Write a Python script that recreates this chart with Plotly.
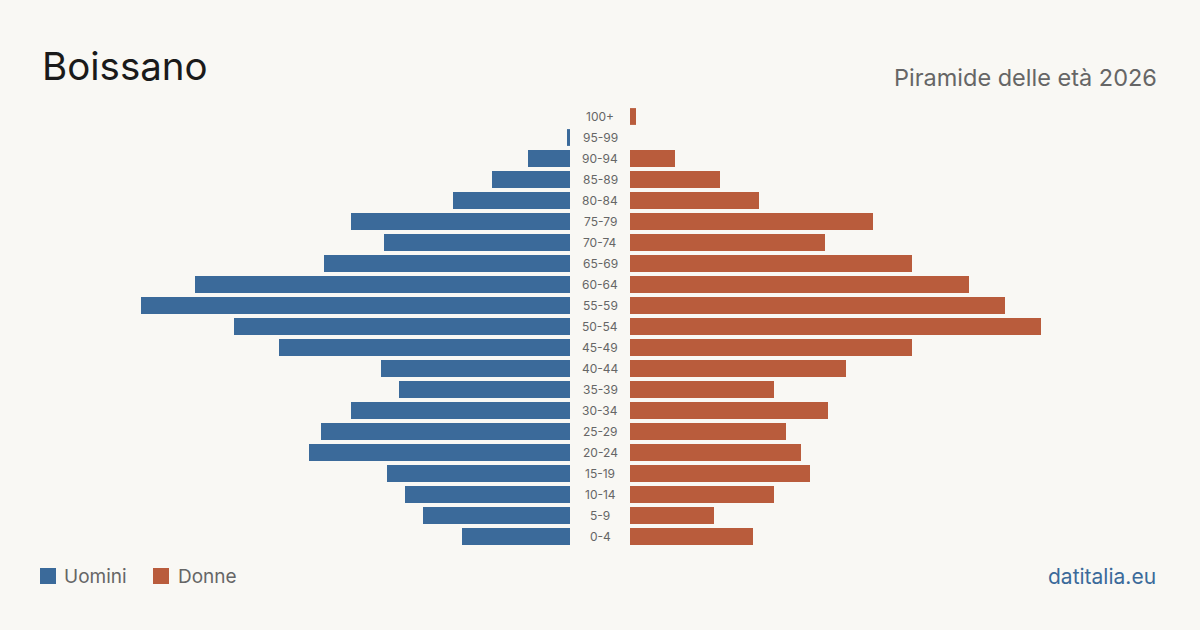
import plotly.graph_objects as go

ages = ["0-4", "5-9", "10-14", "15-19", "20-24", "25-29", "30-34", "35-39", "40-44",
        "45-49", "50-54", "55-59", "60-64", "65-69", "70-74", "75-79", "80-84",
        "85-89", "90-94", "95-99", "100+"]
uomini = [36, 49, 55, 61, 87, 83, 73, 57, 63, 97, 112, 143, 125, 82, 62, 73, 39, 26, 14, 1, 0]
donne = [41, 28, 48, 60, 57, 52, 66, 48, 72, 94, 137, 125, 113, 94, 65, 81, 43, 30, 15, 0, 2]

title = "Boissano"
subtitle = "Piramide delle età 2026"
source = "datitalia.eu"

BLUE = "#3b6a9a"
RED = "#b95c3c"
BG = "#f9f8f4"
GREY = "#666666"
FONT = "Inter"

W, H = 1200, 630
R = 530 / 3.0

fig = go.Figure()
fig.add_trace(go.Bar(y=ages, x=uomini, orientation="h", marker=dict(color=BLUE, line_width=0),
                     xaxis="x", yaxis="y", name="Uomini", showlegend=False))
fig.add_trace(go.Bar(y=ages, x=donne, orientation="h", marker=dict(color=RED, line_width=0),
                     xaxis="x2", yaxis="y", name="Donne", showlegend=False))

ytop = 1 - 106 / H
ybot = 1 - 547 / H

annotations = []
for a in ages:
    annotations.append(dict(x=0.5, xref="paper", y=a, yref="y", text=a, showarrow=False,
                            xanchor="center", yanchor="middle",
                            font=dict(family=FONT, size=12, color=GREY)))
annotations += [
    dict(x=40 / W, y=1 - 66 / H, xref="paper", yref="paper", text=title, showarrow=False,
         xanchor="left", yanchor="middle", font=dict(family=FONT, size=38.5, color="#1a1a1a")),
    dict(x=1159 / W, y=1 - 77 / H, xref="paper", yref="paper", text=subtitle, showarrow=False,
         xanchor="right", yanchor="middle", font=dict(family=FONT, size=23.5, color=GREY)),
    dict(x=62 / W, y=1 - 576 / H, xref="paper", yref="paper", text="Uomini", showarrow=False,
         xanchor="left", yanchor="middle", font=dict(family=FONT, size=19, color=GREY)),
    dict(x=176 / W, y=1 - 576 / H, xref="paper", yref="paper", text="Donne", showarrow=False,
         xanchor="left", yanchor="middle", font=dict(family=FONT, size=19, color=GREY)),
    dict(x=1158 / W, y=1 - 576 / H, xref="paper", yref="paper", text=source, showarrow=False,
         xanchor="right", yanchor="middle", font=dict(family=FONT, size=21, color=BLUE)),
]

shapes = [
    dict(type="rect", xref="paper", yref="paper", x0=40 / W, x1=56 / W,
         y0=1 - 584 / H, y1=1 - 568 / H, fillcolor=BLUE, line_width=0),
    dict(type="rect", xref="paper", yref="paper", x0=153 / W, x1=169 / W,
         y0=1 - 584 / H, y1=1 - 568 / H, fillcolor=RED, line_width=0),
]

fig.update_layout(
    width=W, height=H, margin=dict(l=0, r=0, t=0, b=0),
    paper_bgcolor=BG, plot_bgcolor=BG,
    barmode="overlay", bargap=0.2,
    xaxis=dict(domain=[40 / W, 570 / W], range=[R, 0], visible=False, fixedrange=True),
    xaxis2=dict(domain=[630 / W, 1160 / W], range=[0, R], visible=False, fixedrange=True),
    yaxis=dict(domain=[ybot, ytop], categoryorder="array", categoryarray=ages,
               visible=False, range=[-0.5, len(ages) - 0.5]),
    annotations=annotations, shapes=shapes,
)

fig.write_html("out.html")
